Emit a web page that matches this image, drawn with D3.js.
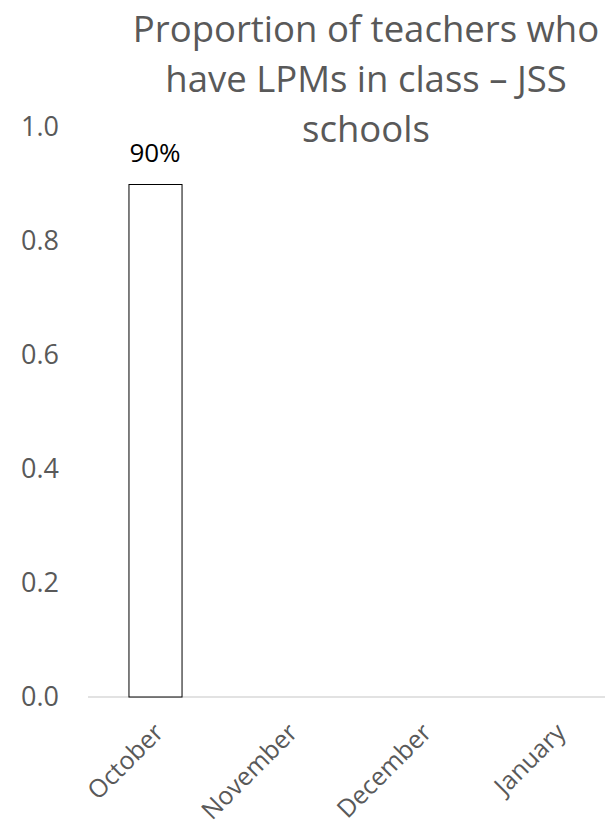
<!DOCTYPE html>
<html>
<head>
<meta charset="utf-8">
<script src="https://cdn.jsdelivr.net/npm/d3@7"></script>
<style>
  html, body { margin: 0; padding: 0; background: #fff; }
  svg { display: block; }
</style>
</head>
<body>
<svg id="chart" width="605" height="834"></svg>
<script>
const categories = ["October", "November", "December", "January"];
const values = [0.9, null, null, null];
const valueLabels = ["90%", "", "", ""];
const yTicks = [0, 0.2, 0.4, 0.6, 0.8, 1.0];
const titleLines = ["Proportion of teachers who", "have LPMs in class \u2013 JSS", "schools"];

const svg = d3.select("#chart");
const font = "'Open Sans', 'DejaVu Sans', sans-serif";
const gray = "#595959";

const y = d3.scaleLinear().domain([0, 1]).range([697, 127]);
const x = d3.scaleBand().domain(categories).range([88, 624]).paddingInner(0.604).paddingOuter(0.302);

// x axis baseline
svg.append("line")
  .attr("x1", 88).attr("x2", 605)
  .attr("y1", y(0)).attr("y2", y(0))
  .attr("stroke", "#d9d9d9").attr("stroke-width", 1.5);

// y axis labels
const yAxis = d3.axisLeft(y).tickValues(yTicks).tickFormat(d3.format(".1f")).tickSize(0).tickPadding(0);
const gy = svg.append("g").attr("transform", "translate(59,0)").call(yAxis);
gy.select(".domain").remove();
gy.selectAll("text").attr("font-family", font).attr("font-size", 27).attr("fill", gray);

// bars
const data = categories.map((c, i) => ({c, v: values[i], label: valueLabels[i]})).filter(d => d.v != null);
svg.selectAll("rect.bar").data(data).enter().append("rect")
  .attr("class", "bar")
  .attr("x", d => x(d.c) + 0.5)
  .attr("y", d => y(d.v) + 0.5)
  .attr("width", x.bandwidth())
  .attr("height", d => y(0) - y(d.v) - 0.5)
  .attr("fill", "#fff").attr("stroke", "#000").attr("stroke-width", 1);

svg.selectAll("text.vlabel").data(data).enter().append("text")
  .attr("class", "vlabel")
  .attr("x", d => x(d.c) + x.bandwidth() / 2)
  .attr("y", d => y(d.v) - 22)
  .attr("text-anchor", "middle")
  .attr("font-family", font).attr("font-size", 26).attr("fill", "#000")
  .text(d => d.label);

// x axis labels
const xAxis = d3.axisBottom(x).tickSize(0).tickPadding(0);
const gx = svg.append("g").attr("transform", `translate(0,${y(0)})`).call(xAxis);
gx.select(".domain").remove();
gx.selectAll("text")
  .attr("font-family", font).attr("font-size", 25).attr("fill", gray)
  .attr("text-anchor", "end")
  .attr("dy", null).attr("y", 0)
  .attr("transform", "translate(10,37) rotate(-45)");

// title
svg.append("text")
  .attr("x", 366).attr("y", 0)
  .attr("text-anchor", "middle")
  .attr("font-family", font).attr("font-size", 36.5).attr("fill", gray)
  .selectAll("tspan").data(titleLines).enter().append("tspan")
  .attr("x", 366)
  .attr("y", (d, i) => 42 + i * 50)
  .text(d => d);
</script>
</body>
</html>
